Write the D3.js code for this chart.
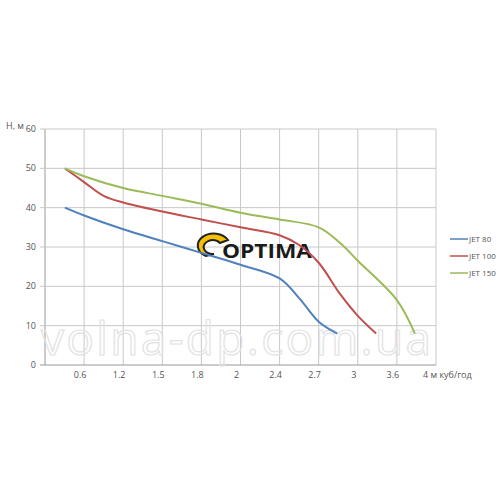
<!DOCTYPE html><html><head><meta charset="utf-8"><script src="https://cdn.jsdelivr.net/npm/d3@7"></script>
<style>body{margin:0;background:#fff}text{font-family:"Open Sans",Arial,sans-serif}</style></head><body><svg id="c" width="500" height="500"></svg>
<script>
const xLabels=["0.6","1.2","1.5","1.8","2","2.4","2.7","3","3.6"];
const yTicks=[0,10,20,30,40,50,60];
const seriesNames=["JET 80","JET 100","JET 150"];
const colors=["#4F81BD","#C0504D","#9BBB59"];
const jet80=[[0.51,40],[1,38],[2,34.5],[3,31.5],[4,28.5],[5,25.5],[6,22],[6.5,17],[7,11],[7.47,8]];
const jet100=[[0.51,50],[1,46.5],[1.5,43],[2,41.3],[3,39],[4,37],[5,35],[6,33],[6.5,30.5],[7,26],[7.55,18],[8,12.5],[8.47,8]];
const jet150=[[0.51,50],[1,48],[2,45],[3,43],[4,41],[5,38.7],[6,37],[7,35],[7.55,31],[8,26.5],[9,16.5],[9.46,8]];
const data=[jet80,jet100,jet150];
const svg=d3.select("#c");
const x=d3.scaleLinear().domain([0,10]).range([45,436]);
const y=d3.scaleLinear().domain([0,60]).range([365,129]);
const g=svg.append("g");
svg.append("text").attr("x",236).attr("y",355).attr("text-anchor","middle").attr("font-size",46).attr("fill","none").attr("stroke","#e2e2e2").attr("stroke-width",1.2).attr("font-family","Liberation Sans").attr("textLength",390).text("volna-dp.com.ua");
d3.range(0,11).forEach(i=>g.append("line").attr("x1",x(i)).attr("x2",x(i)).attr("y1",129).attr("y2",365).attr("stroke",i==0?"#999":"#c8c8c8"));
yTicks.forEach(t=>{g.append("line").attr("x1",40).attr("x2",436).attr("y1",y(t)).attr("y2",y(t)).attr("stroke",t==0?"#999":"#c8c8c8");
 g.append("text").attr("x",36).attr("y",y(t)+3).attr("text-anchor","end").attr("font-size",9).attr("fill","#555").text(t);});
xLabels.forEach((l,i)=>g.append("text").attr("x",x(i+1)-4).attr("y",378).attr("text-anchor","middle").attr("font-size",9).attr("fill","#555").text(l));
g.append("text").attr("x",423).attr("y",378).attr("font-size",9).attr("fill","#555").text("4 м куб/год");
g.append("text").attr("x",6).attr("y",129).attr("font-size",9).attr("fill","#555").text("H, м");
svg.append("path").attr("d","M206,256 a16,12 0 1,1 22,-16 l-8,3 a9,7 0 1,0 -6,11 z").attr("fill","#f5c000").attr("stroke","#222").attr("stroke-width",2);
svg.append("text").attr("x",222).attr("y",258).attr("font-size",20).attr("font-weight","bold").attr("fill","#1a1a1a").attr("font-family","DejaVu Sans").attr("textLength",90).attr("lengthAdjust","spacingAndGlyphs").text("OPTIMA");
const line=d3.line().x(d=>x(d[0])).y(d=>y(d[1])).curve(d3.curveCatmullRom);
data.forEach((s,i)=>svg.append("path").attr("d",line(s)).attr("fill","none").attr("stroke",colors[i]).attr("stroke-width",2));
seriesNames.forEach((n,i)=>{const yy=239+i*17;svg.append("line").attr("x1",450).attr("x2",468).attr("y1",yy).attr("y2",yy).attr("stroke",colors[i]).attr("stroke-width",1.5);
 svg.append("text").attr("x",469).attr("y",yy+3).attr("font-size",8).attr("fill","#555").text(n);});
</script></body></html>
